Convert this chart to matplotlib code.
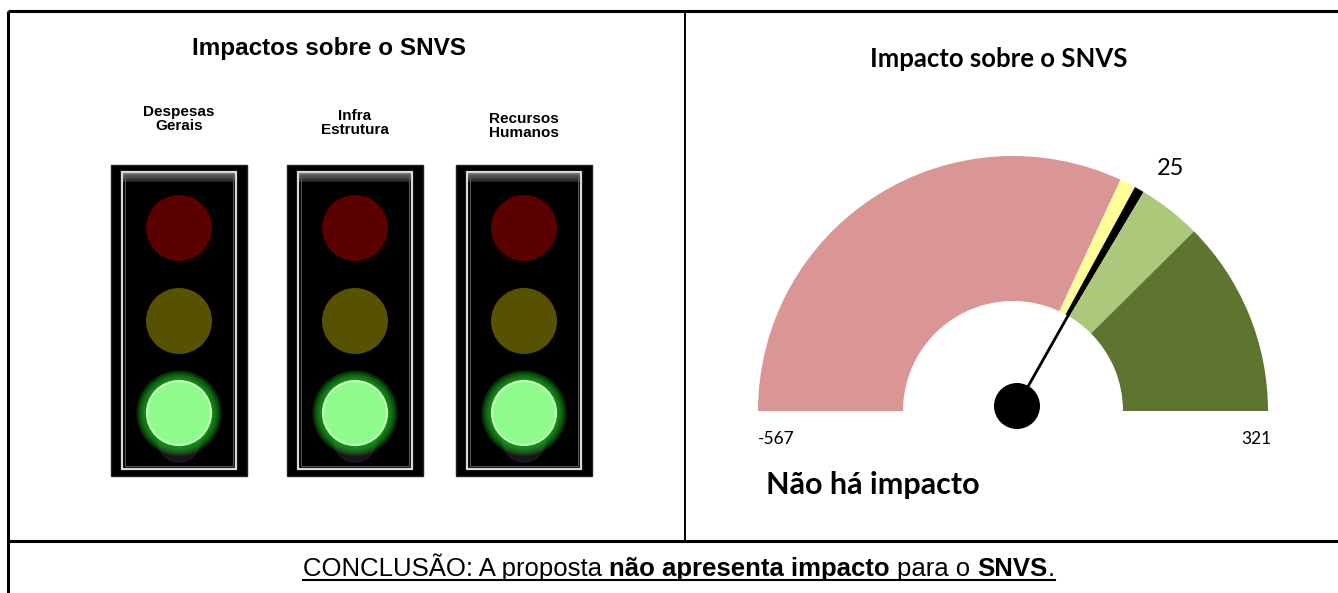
import numpy as np
import matplotlib.pyplot as plt
from matplotlib.patches import Rectangle, Circle, Wedge

# dados
categorias = ["Despesas\nGerais", "Infra\nEstrutura", "Recursos\nHumanos"]
estado = ["verde", "verde", "verde"]

g_min, g_max = -567, 321
faixas_lim = [-567, 0, 18, 29, 100, 321]
faixas_cor = ["#d99694", "#ffff99", "#000000", "#abc87b", "#5e7530"]
valor = 25
veredito = "Não há impacto"

luz_cor = {"vermelho": "#5a0000", "amarelo": "#575200", "verde": "#8ffb8a"}

fig = plt.figure(figsize=(13.38, 5.93), dpi=100)
ax = fig.add_axes([0, 0, 1, 1])
ax.set_xlim(0, 1338)
ax.set_ylim(593, 0)
ax.axis("off")

# grade da tabela
lk = dict(color="black", lw=2.2, solid_capstyle="butt")
ax.plot([8, 1338], [11, 11], **lk)
ax.plot([8, 8], [11, 593], **lk)
ax.plot([685, 685], [11, 541], color="black", lw=1.4)
ax.plot([8, 1338], [541, 541], **lk)

# ---- painel esquerdo: semáforos
arial = "Liberation Sans"
ax.text(329, 48, "Impactos sobre o SNVS", ha="center", va="center",
        fontsize=17.5, fontweight="bold", family=arial)

xs = [179, 355, 524]
rotulo_y = [119, 123, 126]
for x, lab, ly, st in zip(xs, categorias, rotulo_y, estado):
    ax.text(x, ly, lab, ha="center", va="center", fontsize=11,
            fontweight="bold", family=arial, linespacing=0.92)
    # caixa
    ax.add_patch(Rectangle((x - 68, 165), 136, 311, fc="black", ec="#222222", lw=1))
    for k in range(6):
        ax.add_patch(Rectangle((x - 57, 173 + k * 1.5), 114, 1.5,
                               fc=(0.42 - k * 0.06,) * 3, ec="none"))
    ax.add_patch(Rectangle((x - 57, 172), 114, 297, fc="none", ec="#d8d8d8", lw=1.6))
    ax.add_patch(Rectangle((x - 54, 175), 108, 291, fc="none", ec="#555555", lw=0.8))
    # luzes
    for cy, nome in zip([228, 321, 413], ["vermelho", "amarelo", "verde"]):
        if nome == st:
            ax.add_patch(Circle((x, cy + 28), 22, fc="#c8b8f0", ec="none", alpha=0.12))
            for i in range(10):
                ax.add_patch(Circle((x, cy), 33 + 10 - i, fc="#22c022",
                                    ec="none", alpha=0.12))
            ax.add_patch(Circle((x, cy), 32, fc=luz_cor[nome], ec="#c8ffc0", lw=1.5))
        else:
            ax.add_patch(Circle((x, cy), 33, fc=luz_cor[nome], ec="none"))

# ---- painel direito: velocímetro
cx, cy0, R, r = 1013, 411, 255, 110


def ang(v):
    # ângulo em coordenadas de dados (eixo y invertido)
    return (v - g_min) / (g_max - g_min) * 180 - 180


for lo, hi, c in zip(faixas_lim[:-1], faixas_lim[1:], faixas_cor):
    ax.add_patch(Wedge((cx, cy0), R, ang(lo), ang(hi), width=R - r, fc=c, ec="none"))

a = np.deg2rad(ang(valor))
ax.plot([cx + 4, cx + r * np.cos(a)], [cy0 - 5, cy0 + r * np.sin(a)],
        color="black", lw=2)
ax.add_patch(Circle((cx + 4, cy0 - 5), 23, fc="black", ec="none"))

calibri = ["Lato", "DejaVu Sans"]
ax.text(999, 59, "Impacto sobre o SNVS", ha="center", va="center",
        fontsize=18.5, fontweight="bold", family=calibri)
ax.text(cx + (R + 60) * np.cos(a), cy0 + (R + 60) * np.sin(a) + 30, str(valor),
        ha="center", va="center", fontsize=17, family=calibri)
ax.text(cx - R, 439, str(g_min), ha="left", va="center", fontsize=12.5, family=calibri)
ax.text(cx + R + 3, 439, str(g_max), ha="right", va="center", fontsize=12.5, family=calibri)
ax.text(766, 485, veredito, ha="left", va="center", fontsize=22,
        fontweight="bold", family=calibri)

# ---- conclusão (texto misto sublinhado)
narrow = ["Liberation Sans Narrow", "Liberation Sans"]
fs = 18.5
partes = [("CONCLUSÃO: A proposta", "normal"), ("não apresenta impacto", "bold"),
          ("para o", "normal"), ("SNVS", "bold"), (".", "normal")]
espaco = [True, True, True, False, False]
rend = fig.canvas.get_renderer()
tmp = ax.text(0, 0, "a a", fontsize=fs, family=narrow)
w2 = tmp.get_window_extent(rend).width
tmp.set_text("aa")
sp = w2 - tmp.get_window_extent(rend).width
tmp.remove()

textos = []
for s, w in partes:
    t = ax.text(0, 576, s, ha="left", va="baseline", fontsize=fs,
                fontweight=w, family=narrow)
    textos.append(t)
larg = [t.get_window_extent(rend).width for t in textos]
total = sum(larg) + sp * sum(espaco)
x0 = 679 - total / 2
xi = x0
for t, w, e in zip(textos, larg, espaco):
    t.set_x(xi)
    xi += w + (sp if e else 0)
ax.plot([x0, xi], [580, 580], color="black", lw=1.5)

fig.savefig("out.png", dpi=100)
